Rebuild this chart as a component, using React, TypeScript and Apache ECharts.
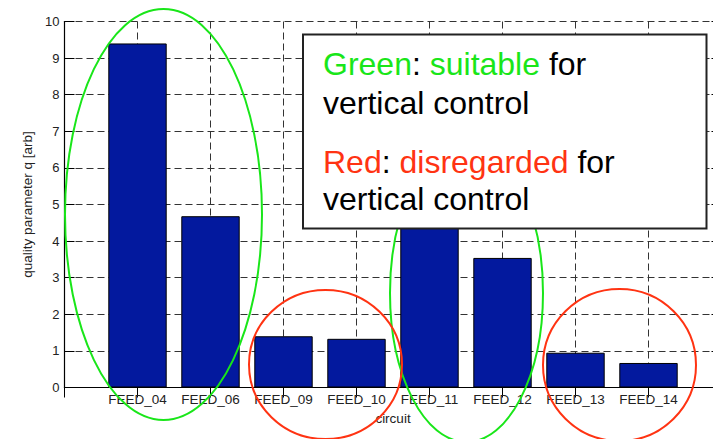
import React, { useEffect, useRef } from "react";
import * as echarts from "echarts";

const categories = ["FEED_04", "FEED_06", "FEED_09", "FEED_10", "FEED_11", "FEED_12", "FEED_13", "FEED_14"];
const qualityValues = [9.4, 4.68, 1.4, 1.33, 5.9, 3.54, 0.95, 0.67];
const yTicks = { min: 0, max: 10, interval: 1 };
const xAxisName = "circuit";
const yAxisName = "quality parameter q [arb]";
const legendLines = [
  "{g|Green}: {g|suitable} for",
  "vertical control",
  "{r|Red}: {r|disregarded} for",
  "vertical control",
];

const FONT = "'Liberation Sans', Arial, Helvetica, sans-serif";
const GREEN = "#19e619";
const RED = "#ff3312";
const W = 732;

export default function App() {
  const ref = useRef<HTMLDivElement>(null);
  useEffect(() => {
    if (!ref.current) return;
    document.body.style.overflow = "hidden";
    const chart = echarts.init(ref.current, undefined, { renderer: "svg" });
    const padded = ["", ...categories, ""];
    const data = ["-", ...qualityValues, "-"];
    const gridLine = { show: true, lineStyle: { color: "#333", type: [7, 4], width: 1 } };
    const tick = { show: true, inside: true, length: 10, lineStyle: { color: "#000" } };
    const axisLine = { show: true, lineStyle: { color: "#000", width: 1.2 } };
    chart.setOption({
      animation: false,
      backgroundColor: "#fff",
      textStyle: { fontFamily: FONT },
      grid: { left: 64.5, right: W - 721.5, top: 21.5, bottom: 51.5, containLabel: false },
      xAxis: [
        {
          type: "category",
          data: padded,
          boundaryGap: false,
          position: "bottom",
          name: xAxisName,
          nameLocation: "middle",
          nameGap: 22,
          nameTextStyle: { fontSize: 13.5, color: "#222", fontFamily: FONT },
          axisLine,
          axisTick: { ...tick, interval: 0 },
          axisLabel: { interval: 0, fontSize: 13.5, color: "#222", margin: 5, fontFamily: FONT },
          splitLine: { ...gridLine, interval: 0 },
        },
        {
          type: "category",
          data: padded,
          boundaryGap: false,
          position: "top",
          axisLine,
          axisTick: { ...tick, interval: 0 },
          axisLabel: { show: false },
          splitLine: { show: false },
        },
      ],
      yAxis: [
        {
          type: "value",
          min: yTicks.min,
          max: yTicks.max,
          interval: yTicks.interval,
          position: "left",
          name: yAxisName,
          nameLocation: "middle",
          nameGap: 27,
          nameTextStyle: { fontSize: 13.5, color: "#222", fontFamily: FONT },
          axisLine,
          axisTick: tick,
          axisLabel: { fontSize: 13, color: "#222", margin: 5, fontFamily: FONT },
          splitLine: gridLine,
        },
        {
          type: "value",
          min: yTicks.min,
          max: yTicks.max,
          interval: yTicks.interval,
          position: "right",
          axisLine,
          axisTick: tick,
          axisLabel: { show: false },
          splitLine: { show: false },
        },
      ],
      series: [
        {
          type: "bar",
          data,
          xAxisIndex: 0,
          yAxisIndex: 0,
          barWidth: "80%",
          itemStyle: { color: "#03199e", borderColor: "#000", borderWidth: 1 },
          z: 3,
        },
      ],
      graphic: [
        { type: "ellipse", z: 100, shape: { cx: 163.5, cy: 214.5, rx: 98.5, ry: 205.5 }, style: { fill: "none", stroke: GREEN, lineWidth: 2 } },
        { type: "ellipse", z: 100, shape: { cx: 466.5, cy: 293, rx: 76.5, ry: 149 }, style: { fill: "none", stroke: GREEN, lineWidth: 2 } },
        { type: "ellipse", z: 100, shape: { cx: 325.5, cy: 364.5, rx: 76.5, ry: 74.5 }, style: { fill: "none", stroke: RED, lineWidth: 2 } },
        { type: "ellipse", z: 100, shape: { cx: 619.5, cy: 365, rx: 76.5, ry: 76 }, style: { fill: "none", stroke: RED, lineWidth: 2 } },
        { type: "rect", z: 110, shape: { x: 303, y: 34.5, width: 403.5, height: 194 }, style: { fill: "#fff", stroke: "#222", lineWidth: 2 } },
        ...legendLines.map((t, i) => ({
          type: "text",
          z: 111,
          x: 323,
          y: [64, 103, 162, 199][i],
          style: {
            text: t,
            fill: "#000",
            fontSize: 32,
            fontFamily: FONT,
            verticalAlign: "middle",
            align: "left",
            rich: {
              g: { fill: GREEN, fontSize: 32, fontFamily: FONT },
              r: { fill: RED, fontSize: 32, fontFamily: FONT },
            },
          },
        })),
      ],
    });
    return () => chart.dispose();
  }, []);
  return <div ref={ref} style={{ position: "fixed", left: 0, top: 0, width: W, height: 439 }} />;
}
